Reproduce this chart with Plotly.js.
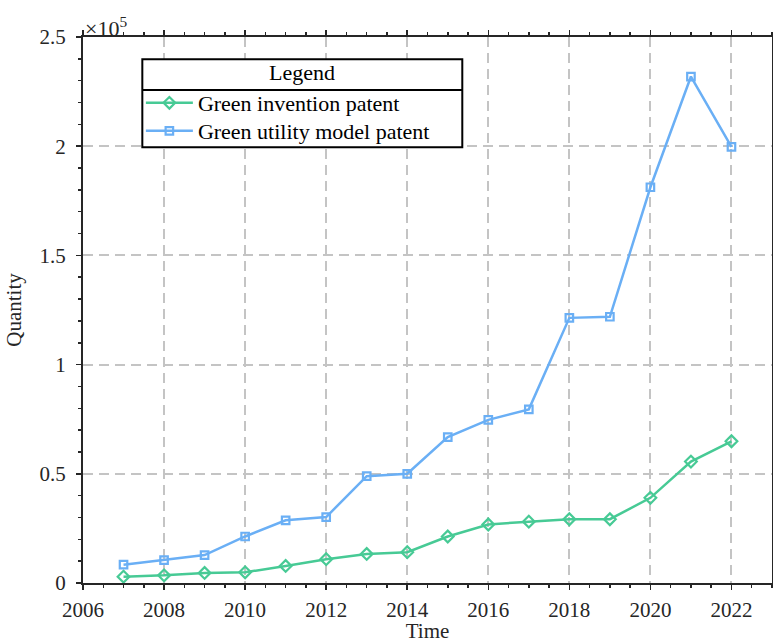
<!DOCTYPE html>
<html>
<head>
<meta charset="utf-8">
<script src="https://cdn.plot.ly/plotly-3.0.1.min.js"></script>
<style>
  html, body { margin: 0; padding: 0; background: #fff; }
  #chart { width: 773px; height: 643px; }
</style>
</head>
<body>
<div id="chart"></div>
<script>
// Annual green patent counts
const years = [2007, 2008, 2009, 2010, 2011, 2012, 2013, 2014, 2015, 2016, 2017, 2018, 2019, 2020, 2021, 2022];
const inventionPatents = [2900, 3500, 4600, 4900, 7800, 10900, 13300, 14100, 21300, 26800, 28100, 29200, 29200, 39000, 55600, 64900];
const utilityModelPatents = [8400, 10500, 12800, 21300, 28700, 30200, 48900, 50000, 66800, 74700, 79500, 121400, 121900, 181200, 231900, 199700];

const seriesNames = ['Green invention patent', 'Green utility model patent'];
const yTickVals = [0, 50000, 100000, 150000, 200000, 250000];
const yTickText = ['0', '0.5', '1', '1.5', '2', '2.5'];
const xTickVals = [2006, 2008, 2010, 2012, 2014, 2016, 2018, 2020, 2022];

const FONT = 'Liberation Serif, DejaVu Serif, serif';
const INK = '#262626';
const GREEN = '#47ca95';
const BLUE = '#6aaff5';

const traces = [
  {
    x: years, y: inventionPatents, name: seriesNames[0], legend: 'legend',
    type: 'scatter', mode: 'lines+markers',
    line: { color: GREEN, width: 2.5 },
    marker: { symbol: 'diamond-open', size: 9, color: GREEN, line: { width: 2.2, color: GREEN } }
  },
  {
    x: years, y: utilityModelPatents, name: seriesNames[1], legend: 'legend2',
    type: 'scatter', mode: 'lines+markers',
    line: { color: BLUE, width: 2.5 },
    marker: { symbol: 'square-open', size: 7.5, color: BLUE, line: { width: 2.2, color: BLUE } }
  }
];

const axisCommon = {
  showline: true, linecolor: INK, linewidth: 2, mirror: 'ticks',
  ticks: 'outside', ticklen: 5, tickwidth: 1.5, tickcolor: INK,
  showgrid: true, gridcolor: '#c4c4c4', gridwidth: 2, griddash: '10px,6px',
  zeroline: false,
  tickfont: { family: FONT, size: 21, color: INK }
};

// one legend box per series so the two rows sit at a fixed pitch
const legendCommon = {
  xanchor: 'left', yanchor: 'top',
  bgcolor: 'rgba(0,0,0,0)', borderwidth: 0,
  font: { family: FONT, size: 22, color: '#000' },
  itemwidth: 47
};

const layout = {
  width: 773, height: 643,
  margin: { l: 83, r: 1, t: 37, b: 60 },
  paper_bgcolor: '#ffffff', plot_bgcolor: '#ffffff',
  font: { family: FONT, color: INK },
  showlegend: true,
  xaxis: Object.assign({}, axisCommon, {
    range: [2006, 2023], tickvals: xTickVals, ticklabelstandoff: 2,
    minor: { dtick: 0.5, ticks: 'outside', ticklen: 3, tickcolor: INK, showgrid: false },
    title: { text: 'Time', font: { family: FONT, size: 21, color: INK }, standoff: 8 }
  }),
  yaxis: Object.assign({}, axisCommon, {
    range: [0, 250000], tickvals: yTickVals, ticktext: yTickText, ticklabelstandoff: 6,
    minor: { dtick: 10000, ticks: 'outside', ticklen: 3, tickcolor: INK, showgrid: false },
    title: { text: 'Quantity', font: { family: FONT, size: 21, color: INK }, standoff: 12 }
  }),
  legend: Object.assign({}, legendCommon, { x: 0.084, y: 0.9176 }),
  legend2: Object.assign({}, legendCommon, { x: 0.084, y: 0.8663 }),
  shapes: [
    // legend frame with a title row
    { type: 'rect', xref: 'paper', yref: 'paper', x0: 0.0861, x1: 0.5505, y0: 0.798, y1: 0.9592,
      line: { color: '#000', width: 2 }, fillcolor: '#ffffff', layer: 'above' },
    { type: 'line', xref: 'paper', yref: 'paper', x0: 0.0861, x1: 0.5505, y0: 0.903, y1: 0.903,
      line: { color: '#000', width: 2 }, layer: 'above' }
  ],
  annotations: [
    { text: 'Legend', xref: 'paper', yref: 'paper', x: 0.3183, y: 0.935,
      xanchor: 'center', yanchor: 'middle', showarrow: false,
      font: { family: FONT, size: 22, color: '#000' } },
    { text: '×10<sup>5</sup>', xref: 'paper', yref: 'paper', x: 0.0, y: 1.0,
      xanchor: 'left', yanchor: 'bottom', showarrow: false, yshift: -6,
      font: { family: FONT, size: 22, color: INK } }
  ]
};

Plotly.newPlot('chart', traces, layout, { displayModeBar: false, staticPlot: true });
</script>
</body>
</html>
